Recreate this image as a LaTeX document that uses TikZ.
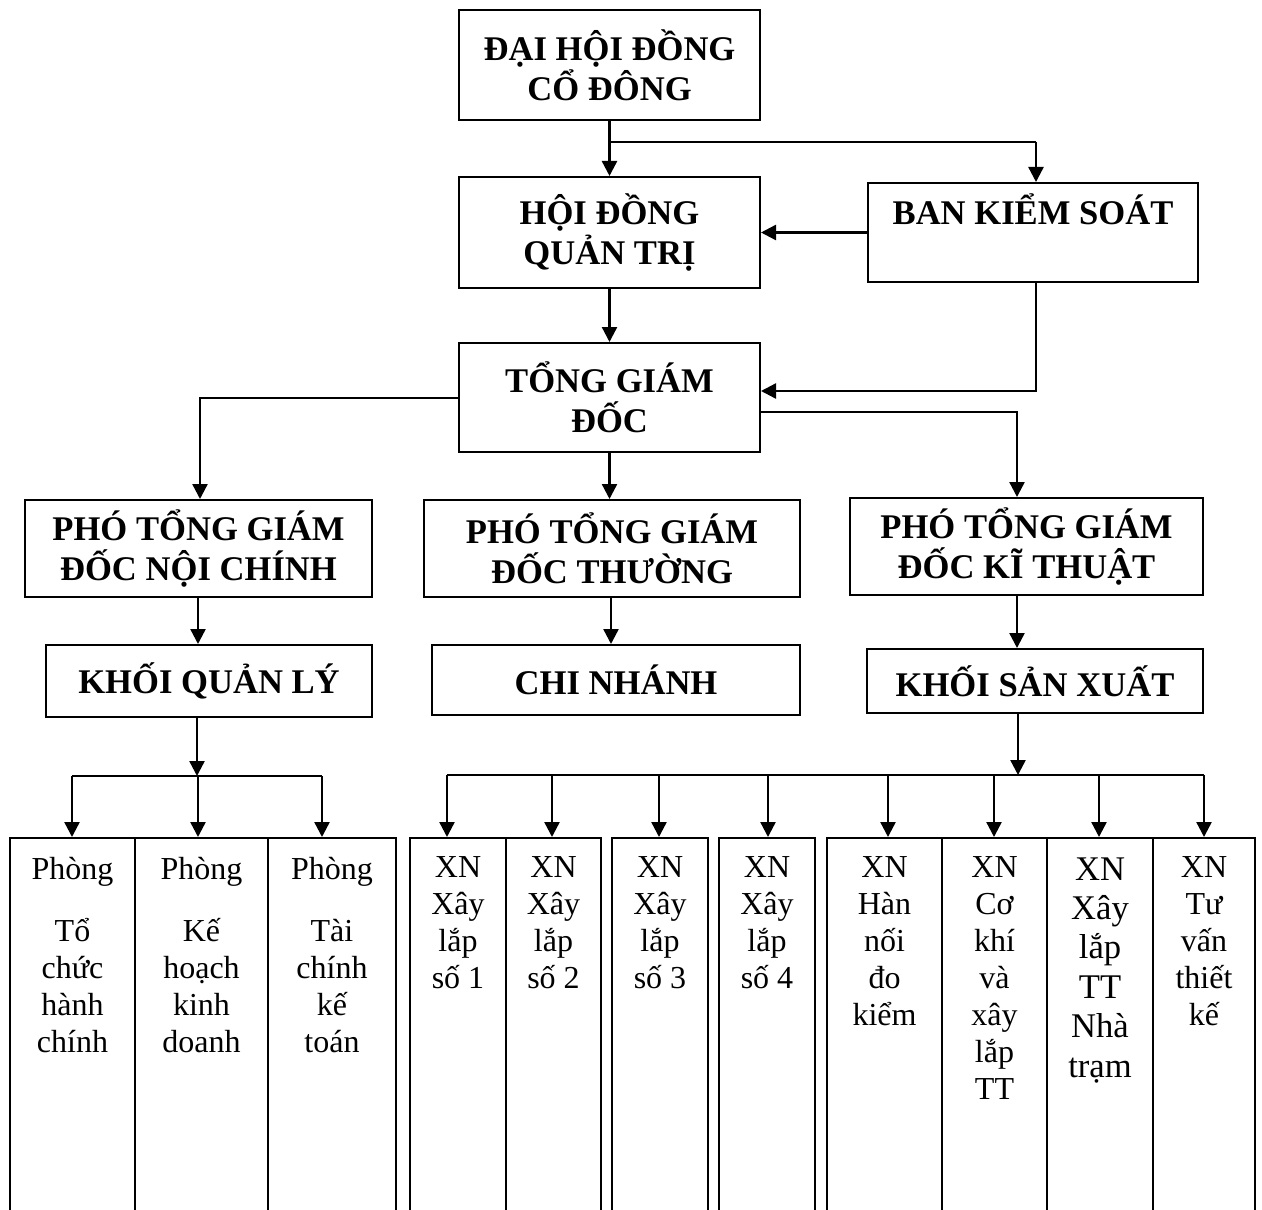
\documentclass[tikz,border=0pt]{standalone}
\usepackage{fontspec}
\setmainfont{Liberation Serif}
\usetikzlibrary{arrows.meta}
\begin{document}
\begin{tikzpicture}[x=0.5pt,y=-0.5pt,
  bx/.style 2 args={minimum width=#1pt,minimum height=#2pt},
  hbox/.style={draw,line width=1pt,inner sep=0pt,align=center,font=\bfseries\fontsize{17.3}{20}\selectfont},
  htext/.style={inner sep=0pt,anchor=base,font=\bfseries\fontsize{17.3}{20}\selectfont},
  cbox/.style={draw,line width=1pt,inner sep=0pt},
  ctext/.style={inner sep=0pt,anchor=north,align=center,font=\fontsize{16}{18.5}\selectfont},
  ctextl/.style={inner sep=0pt,anchor=north,align=center,font=\fontsize{17.3}{19.7}\selectfont},
  arr/.style={line width=1.2pt,-{Triangle[length=7.5pt,width=7.5pt]}},
  ln/.style={line width=1.2pt}]
\useasboundingbox (0,0) rectangle (1262,1209);

% top level boxes
\node[hbox, bx={150.5}{55}] (dh) at (609.5,65) {ĐẠI HỘI ĐỒNG\\CỔ ĐÔNG};
\node[hbox, bx={150.5}{55.5}] (hd) at (609.5,232.5) {HỘI ĐỒNG\\QUẢN TRỊ};
\node[cbox, bx={165}{49.5}] (bks) at (1033,232.5) {};
\node[htext] (bkst) at ([yshift=-21.5pt]bks.north) {BAN KIỂM SOÁT};
\node[hbox, bx={150.5}{54.5}] (tg) at (609.5,397.5) {TỔNG GIÁM\\ĐỐC};
\node[hbox, bx={173.5}{48.5}] (pt1) at (198.5,548.5) {PHÓ TỔNG GIÁM\\ĐỐC NỘI CHÍNH};
\node[hbox, bx={188}{48.5}] (pt2) at (612,548.5) {PHÓ TỔNG GIÁM\\ĐỐC THƯỜNG};
\node[hbox, bx={176.5}{48.5}] (pt3) at (1026.5,546.5) {PHÓ TỔNG GIÁM\\ĐỐC KĨ THUẬT};
\node[hbox, bx={163}{36}] (kq) at (209,681) {KHỐI QUẢN LÝ};
\node[hbox, bx={184}{35}] (cn) at (616,680) {CHI NHÁNH};
\node[hbox, bx={168}{32}] (ks) at (1035,681) {KHỐI SẢN XUẤT};

% bottom columns
\node[cbox, bx={62.5}{201}] (p1) at (72.5,1039) {};
\node[cbox, bx={66.5}{201}] (p2) at (201.5,1039) {};
\node[cbox, bx={64}{201}] (p3) at (332,1039) {};
\node[cbox, bx={48}{201}] (x1) at (458,1039) {};
\node[cbox, bx={47.5}{201}] (x2) at (553.5,1039) {};
\node[cbox, bx={48}{201}] (x3) at (660,1039) {};
\node[cbox, bx={48}{201}] (x4) at (767,1039) {};
\node[cbox, bx={57.5}{201}] (x5) at (884.5,1039) {};
\node[cbox, bx={52.5}{201}] (x6) at (994.5,1039) {};
\node[cbox, bx={53}{201}] (x7) at (1100,1039) {};
\node[cbox, bx={51}{201}] (x8) at (1204,1039) {};

\node[ctext] (tp1) at ([yshift=-10pt]p1.north) {Phòng\\[12.5pt]Tổ\\chức\\hành\\chính};
\node[ctext] (tp2) at ([yshift=-10pt]p2.north) {Phòng\\[12.5pt]Kế\\hoạch\\kinh\\doanh};
\node[ctext] (tp3) at ([yshift=-10pt]p3.north) {Phòng\\[12.5pt]Tài\\chính\\kế\\toán};
\node[ctext] (tx1) at ([yshift=-9.5pt]x1.north) {XN\\Xây\\lắp\\số 1};
\node[ctext] (tx2) at ([yshift=-9.5pt]x2.north) {XN\\Xây\\lắp\\số 2};
\node[ctext] (tx3) at ([yshift=-9.5pt]x3.north) {XN\\Xây\\lắp\\số 3};
\node[ctext] (tx4) at ([yshift=-9.5pt]x4.north) {XN\\Xây\\lắp\\số 4};
\node[ctext] (tx5) at ([yshift=-9.5pt]x5.north) {XN\\Hàn\\nối\\đo\\kiểm};
\node[ctext] (tx6) at ([yshift=-9.5pt]x6.north) {XN\\Cơ\\khí\\và\\xây\\lắp\\TT};
\node[ctextl] (tx7) at ([yshift=-10pt]x7.north) {XN\\Xây\\lắp\\TT\\Nhà\\trạm};
\node[ctext] (tx8) at ([yshift=-9.5pt]x8.north) {XN\\Tư\\vấn\\thiết\\kế};

% connectors
\coordinate (j1) at (609.5,142);
\coordinate (j2) at (1036,142);
\draw[arr] (dh) -- (hd);
\draw[ln] (j1) -- (j2);
\draw[arr] (j2) -- (j2 |- bks.north);
\draw[arr] (bks.west) -- (bks.west -| hd.east);
\draw[arr] (hd) -- (tg);
\coordinate (j3) at (1036,391);
\draw[arr] (j3 |- bks.south) -- (j3) -- (j3 -| tg.east);
\coordinate (j4) at (200,398);
\draw[arr] (j4 -| tg.west) -- (j4) -- (j4 |- pt1.north);
\draw[arr] (tg.south) -- (tg.south |- pt2.north);
\coordinate (j5) at (1017,412);
\draw[arr] (j5 -| tg.east) -- (j5) -- (j5 |- pt3.north);
\coordinate (j6) at (198,0);
\draw[arr] (j6 |- pt1.south) -- (j6 |- kq.north);
\coordinate (j7) at (611,0);
\draw[arr] (j7 |- pt2.south) -- (j7 |- cn.north);
\draw[arr] (j5 |- pt3.south) -- (j5 |- ks.north);

% left branch
\coordinate (bL) at (197,776);
\coordinate (bL1) at (72,776);
\coordinate (bL2) at (198,776);
\coordinate (bL3) at (322,776);
\draw[arr] (bL |- kq.south) -- (bL);
\draw[ln] (bL1) -- (bL3);
\draw[arr] (bL1) -- (bL1 |- p1.north);
\draw[arr] (bL2) -- (bL2 |- p2.north);
\draw[arr] (bL3) -- (bL3 |- p3.north);

% right branch
\coordinate (bR) at (1018,775);
\coordinate (r1) at (447,775);
\coordinate (r2) at (552,775);
\coordinate (r3) at (659,775);
\coordinate (r4) at (768,775);
\coordinate (r5) at (888,775);
\coordinate (r6) at (994,775);
\coordinate (r7) at (1099,775);
\coordinate (r8) at (1204,775);
\draw[arr] (bR |- ks.south) -- (bR);
\draw[ln] (r1) -- (r8);
\foreach \r/\b in {r1/x1,r2/x2,r3/x3,r4/x4,r5/x5,r6/x6,r7/x7,r8/x8}
  \draw[arr] (\r) -- (\r |- \b.north);
\end{tikzpicture}
\end{document}
